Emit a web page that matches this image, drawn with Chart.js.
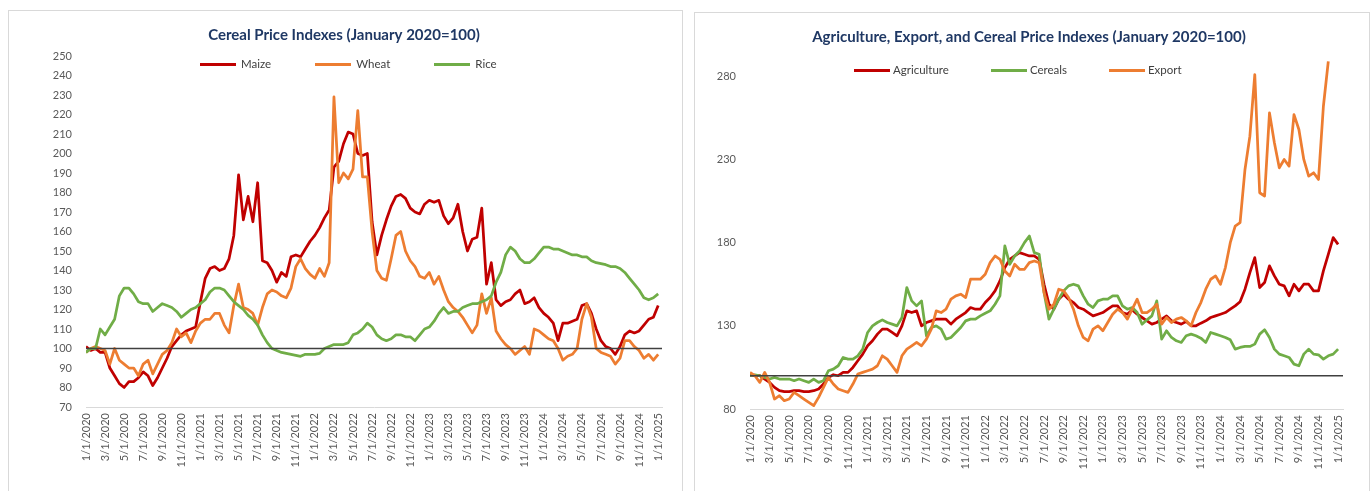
<!DOCTYPE html>
<html>
<head>
<meta charset="utf-8">
<title>Cereal Price Indexes</title>
<script src="https://cdn.jsdelivr.net/npm/chart.js@4.4.1/dist/chart.umd.min.js"></script>
<style>
    body { margin: 0; background: #fff; width: 1372px; height: 491px; overflow: hidden; position: relative; font-family: Lato, sans-serif; }
    .card { position: absolute; border: 1px solid #d9d9d9; background: #fff; }
    #card1 { left: 8px; top: 10px; width: 673px; height: 490px; }
    #card2 { left: 694px; top: 12px; width: 674px; height: 490px; }
    canvas { position: absolute; left: 0; top: 0; }
    .legend { position: absolute; display: flex; font-size: 11.5px; color: #404040; line-height: 14px; }
    .legend .item { display: flex; align-items: center; }
    .legend i { display: inline-block; width: 36px; height: 3px; }
    #legend1 { left: 191px; top: 46px; gap: 44px; }
    #legend1 i { margin-right: 5px; }
    #legend2 { left: 159px; top: 50px; gap: 42px; }
    #legend2 i { margin-right: 3px; }
</style>
</head>
<body>
<div class="card" id="card1">
    <canvas id="cerealChart" width="673" height="480"></canvas>
    <div class="legend" id="legend1"></div>
</div>
<div class="card" id="card2">
    <canvas id="agriChart" width="674" height="478"></canvas>
    <div class="legend" id="legend2"></div>
</div>
<script>
// one value every half month, starting 1/1/2020
const STEP = 0.5;
const baseValue = 100;

const tickLabels = [
    '1/1/2020', '3/1/2020', '5/1/2020', '7/1/2020', '9/1/2020', '11/1/2020',
    '1/1/2021', '3/1/2021', '5/1/2021', '7/1/2021', '9/1/2021', '11/1/2021',
    '1/1/2022', '3/1/2022', '5/1/2022', '7/1/2022', '9/1/2022', '11/1/2022',
    '1/1/2023', '3/1/2023', '5/1/2023', '7/1/2023', '9/1/2023', '11/1/2023',
    '1/1/2024', '3/1/2024', '5/1/2024', '7/1/2024', '9/1/2024', '11/1/2024',
    '1/1/2025'
];

const leftYTicks = [70, 80, 90, 100, 110, 120, 130, 140, 150, 160, 170, 180, 190, 200, 210, 220, 230, 240, 250];
const rightYTicks = [80, 130, 180, 230, 280];

// Cereal Price Indexes
const maize = [
    101, 99, 100, 98, 98, 90, 86, 82, 80, 83, 83, 85, 88, 86, 81, 85, 90, 95, 101, 104, 107, 109, 110, 111,
    124, 136, 141, 142, 140, 141, 146, 158, 189, 166, 178, 165, 185, 145, 144, 140, 134, 139, 137, 147, 148, 147, 151, 155,
    158, 162, 167, 171, 193, 196, 205, 211, 210, 200, 199, 200, 165, 148, 158, 166, 173, 178, 179, 177, 172, 170, 169, 174,
    176, 175, 176, 168, 164, 167, 174, 160, 150, 156, 157, 172, 133, 144, 125, 122, 124, 125, 128, 130, 123, 124, 126, 121,
    118, 116, 113, 104, 113, 113, 114, 115, 122, 123, 118, 110, 104, 101, 100, 97, 101, 107, 109, 108, 109, 112, 115, 116,
    122
];
const wheat = [
    98, 100, 101, 100, 99, 92, 100, 94, 92, 90, 90, 86, 92, 94, 87, 92, 97, 99, 103, 110, 106, 108, 103, 109,
    113, 115, 115, 118, 118, 112, 108, 122, 133, 121, 120, 118, 112, 121, 128, 130, 129, 127, 126, 131, 142, 146, 141, 138,
    136, 141, 137, 144, 229, 185, 190, 187, 192, 222, 188, 188, 160, 140, 136, 135, 146, 158, 160, 150, 145, 142, 137, 136,
    139, 133, 137, 130, 124, 121, 119, 116, 112, 108, 112, 128, 118, 126, 109, 105, 102, 100, 97, 99, 101, 97, 110, 109,
    107, 105, 104, 100, 94, 96, 97, 100, 115, 123, 116, 100, 98, 97, 96, 92, 95, 104, 104, 101, 99, 95, 97, 94,
    97
];
const rice = [
    98, 100, 100, 110, 107, 111, 115, 127, 131, 131, 128, 124, 123, 123, 119, 121, 123, 122, 121, 119, 116, 118, 120, 121,
    123, 125, 129, 131, 131, 130, 127, 124, 122, 120, 117, 115, 112, 107, 103, 100, 99, 98, 97.5, 97, 96.5, 96, 97, 97,
    97, 97.5, 100, 101, 102, 102, 102, 103, 107, 108, 110, 113, 111, 107, 105, 104, 105, 107, 107, 106, 106, 104, 107, 110,
    111, 114, 118, 121, 118, 119, 119, 121, 122, 123, 123, 124, 125, 127, 134, 139, 148, 152, 150, 146, 144, 144, 146, 149,
    152, 152, 151, 151, 150, 149, 148, 148, 147, 147, 145, 144, 143.5, 143, 142, 142, 141, 139, 136, 133, 130, 126, 125, 126,
    128
];

// Agriculture, Export, and Cereal Price Indexes
const agriculture = [
    100.6, 100, 100, 98, 96, 93, 91, 90.5, 90.5, 91, 91, 90.5, 90.5, 91, 92, 95, 99, 100.6, 100, 102, 102, 105, 109, 113,
    118, 121, 125, 128, 128, 126, 124, 130, 139, 138, 139, 130, 132, 133, 134, 134, 134, 131, 134, 136, 138, 141, 140, 140,
    144, 147, 151, 157, 165, 170, 172, 174, 173, 172, 172, 170, 155, 143, 140, 146, 149, 146, 144, 141, 140, 138, 136, 137,
    138, 140, 142, 142, 138, 137, 139.6, 137, 135, 133, 131, 132, 134, 136, 133, 132, 131, 132.6, 130, 130, 131.6, 133, 135, 136,
    137, 138, 140, 142, 144.5, 152, 162, 171, 153, 156, 166, 160, 155, 154, 148, 155, 151, 155, 155, 151, 151, 163, 173, 183,
    179
];
const cereals = [
    100, 100.6, 100, 99, 98, 99, 98, 98, 98, 97, 98, 97, 96, 98, 96, 97, 103, 104, 106, 111, 110, 110, 112, 116,
    126, 130, 132, 133.6, 132, 131, 130, 135, 153, 145, 142, 145, 124, 129, 130, 128, 122, 123, 126, 129, 133, 134, 134, 136,
    137.6, 139, 143, 148, 178, 167, 172, 175, 180, 184, 174, 173, 150, 134, 140, 146, 151, 154, 155, 154, 148, 143, 141, 145,
    146, 146, 148, 148, 142, 140, 141, 138, 131, 133.6, 136, 145, 122, 127, 123, 121, 120, 124, 125, 124, 122.6, 120, 126, 125,
    124, 123, 121.6, 116, 117, 117.6, 117.6, 119, 125, 127.6, 123, 116, 113, 112, 111, 107, 106, 113, 116, 113, 112.6, 110, 112, 113,
    116
];
const exportIdx = [
    102, 100, 96, 102, 96, 86, 88, 85, 86, 90, 88, 86, 84, 82, 87, 93, 99, 95, 92, 91, 90, 95, 101, 102,
    103, 104, 106, 112, 110, 106, 102, 112, 116, 118, 120, 118, 122, 128, 139, 138, 140, 146, 148, 149, 147, 158, 158, 158,
    161, 168, 172, 170, 163, 160, 167, 164, 164, 168, 169, 168, 150, 140, 143, 152, 151, 147, 140, 130, 123, 121, 128, 130,
    127, 132, 137, 140, 138, 134, 140, 146, 138, 138, 140, 143, 131, 135, 132, 134, 135, 133, 130, 138, 144, 152, 158, 160,
    155, 165, 180, 190, 192, 224, 244, 281, 210, 208, 258, 240, 225, 230, 226, 257, 248, 230, 220, 222, 218, 262, 289
];

const RED = '#C00000', ORANGE = '#ED7D31', GREEN = '#70AD47';

function labelToMonth(label) {
    const [m, d, y] = label.split('/').map(Number);
    return (y - 2020) * 12 + (m - 1);
}
const tickMonths = tickLabels.map(labelToMonth);

function toPoints(values) {
    return values.map((v, i) => ({ x: i * STEP, y: v }));
}

function fillLegend(id, series) {
    const box = document.getElementById(id);
    series.forEach(s => {
        const item = document.createElement('span');
        item.className = 'item';
        item.innerHTML = `<i style="background:${s.color}"></i>${s.name}`;
        box.appendChild(item);
    });
}

function buildChart(canvasId, cfg) {
    const ctx = document.getElementById(canvasId).getContext('2d');
    const font = { family: 'Lato', size: 11 };

    // Excel draws the last series on top, chart.js the first one
    const datasets = cfg.series.map((s, i) => ({
        label: s.name,
        data: toPoints(s.values),
        borderColor: s.color,
        backgroundColor: s.color,
        borderWidth: 2.75,
        order: cfg.series.length - i + 1
    }));
    datasets.push({
        label: 'base',
        data: [{ x: 0, y: baseValue }, { x: cfg.xMax, y: baseValue }],
        borderColor: '#404040',
        borderWidth: 1.3,
        order: 0
    });

    return new Chart(ctx, {
        type: 'line',
        data: { datasets: datasets },
        options: {
            responsive: false,
            animation: false,
            layout: { padding: { left: cfg.padLeft, right: cfg.padRight } },
            elements: {
                point: { radius: 0 },
                line: { tension: 0, borderJoinStyle: 'round' }
            },
            plugins: {
                legend: { display: false },
                tooltip: { enabled: false },
                title: {
                    display: true,
                    text: cfg.title,
                    color: '#1F3864',
                    font: { family: 'Lato', size: 15, weight: 'bold' },
                    padding: { top: 15, bottom: 12 }
                }
            },
            scales: {
                x: {
                    type: 'linear',
                    min: 0,
                    max: cfg.xMax,
                    grid: { display: false, drawTicks: false },
                    border: { display: true, color: '#d9d9d9', width: 1 },
                    afterBuildTicks: s => { s.ticks = tickMonths.map(v => ({ value: v })); },
                    afterFit: s => { s.height = cfg.xHeight; },
                    ticks: {
                        autoSkip: false,
                        minRotation: 90,
                        maxRotation: 90,
                        padding: 6,
                        color: '#595959',
                        font: font,
                        callback: (value, index) => tickLabels[index]
                    }
                },
                y: {
                    min: cfg.yMin,
                    max: cfg.yMax,
                    grid: { display: false, drawTicks: false },
                    border: { display: false },
                    afterBuildTicks: s => { s.ticks = cfg.yTicks.map(v => ({ value: v })); },
                    afterFit: s => { s.width = cfg.yWidth; },
                    ticks: { padding: 14, color: '#595959', font: font }
                }
            }
        }
    });
}

const cerealSeries = [
    { name: 'Maize', values: maize, color: RED },
    { name: 'Wheat', values: wheat, color: ORANGE },
    { name: 'Rice', values: rice, color: GREEN }
];
const agriSeries = [
    { name: 'Agriculture', values: agriculture, color: RED },
    { name: 'Cereals', values: cereals, color: GREEN },
    { name: 'Export', values: exportIdx, color: ORANGE }
];

// paddings keep the title near the card centre while the plot sits off-centre
buildChart('cerealChart', {
    title: 'Cereal Price Indexes (January 2020=100)',
    series: cerealSeries,
    xMax: 60.4, yMin: 70, yMax: 250, yTicks: leftYTicks,
    yWidth: 60, xHeight: 84, padLeft: 17, padRight: 20
});
buildChart('agriChart', {
    title: 'Agriculture, Export, and Cereal Price Indexes (January 2020=100)',
    series: agriSeries,
    xMax: 60.5, yMin: 80, yMax: 291, yTicks: rightYTicks,
    yWidth: 35, xHeight: 82, padLeft: 20, padRight: 26
});

fillLegend('legend1', cerealSeries);
fillLegend('legend2', agriSeries);
</script>
</body>
</html>
